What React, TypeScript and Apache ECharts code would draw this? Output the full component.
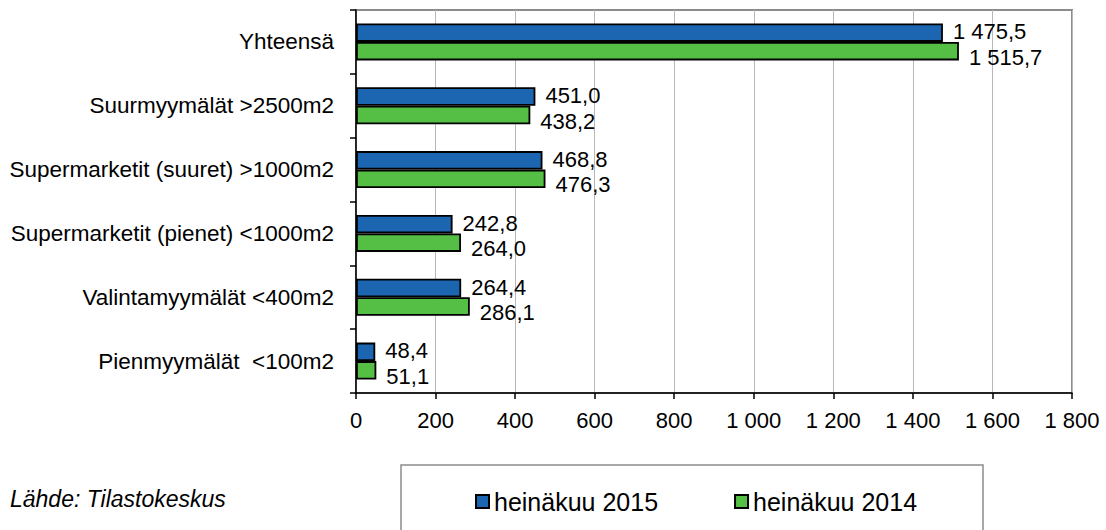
import React, { useEffect, useRef } from "react";
import * as echarts from "echarts";

const categories = [
  "Pienmyymälät  <100m2",
  "Valintamyymälät <400m2",
  "Supermarketit (pienet) <1000m2",
  "Supermarketit (suuret) >1000m2",
  "Suurmyymälät >2500m2",
  "Yhteensä",
];
const seriesNames = ["heinäkuu 2015", "heinäkuu 2014"];
const values2015 = [48.4, 264.4, 242.8, 468.8, 451.0, 1475.5];
const values2014 = [51.1, 286.1, 264.0, 476.3, 438.2, 1515.7];
const xTicks = { min: 0, max: 1800, interval: 200 };
const sourceText = "Lähde: Tilastokeskus";

const FONT = "'Liberation Sans', Arial, sans-serif";

function fmtThousands(n: number): string {
  const s = String(Math.round(n));
  return s.replace(/\B(?=(\d{3})+(?!\d))/g, " ");
}
function fmtValue(v: number): string {
  const fixed = v.toFixed(1);
  const [intPart, dec] = fixed.split(".");
  return fmtThousands(Number(intPart)) + "," + dec;
}

export default function App() {
  const ref = useRef<HTMLDivElement>(null);
  useEffect(() => {
    document.body.style.margin = "0";
    if (!ref.current) return;
    const chart = echarts.init(ref.current, undefined, { renderer: "svg" });
    chart.setOption({
      animation: false,
      backgroundColor: "#ffffff",
      textStyle: { fontFamily: FONT },
      grid: {
        left: 356,
        right: 34,
        top: 10,
        bottom: 137,
        show: true,
        borderColor: "#8c8c8c",
        borderWidth: 2,
        backgroundColor: "transparent",
      },
      legend: {
        data: seriesNames,
        left: 475,
        top: 489,
        padding: 0,
        itemGap: 76,
        itemWidth: 13,
        itemHeight: 13,
        icon: "rect",
        itemStyle: { borderColor: "#000", borderWidth: 2 },
        textStyle: { fontSize: 25, color: "#000", fontFamily: FONT },
      },
      xAxis: {
        type: "value",
        min: xTicks.min,
        max: xTicks.max,
        interval: xTicks.interval,
        axisLine: { show: true, lineStyle: { color: "#000", width: 1.5 } },
        axisTick: { show: true, length: 6, lineStyle: { color: "#000", width: 1.5 } },
        axisLabel: {
          fontSize: 22,
          color: "#000",
          margin: 16,
          fontFamily: FONT,
          formatter: (v: number) => fmtThousands(v),
        },
        splitLine: { show: true, lineStyle: { color: "#b8b8b8", width: 1 } },
      },
      yAxis: {
        type: "category",
        data: categories,
        axisLine: { show: true, lineStyle: { color: "#000", width: 1.5 } },
        axisTick: { show: true, length: 6, lineStyle: { color: "#000", width: 1.5 } },
        axisLabel: { fontSize: 22.5, color: "#000", margin: 22, fontFamily: FONT },
      },
      series: [
        {
          name: seriesNames[0],
          type: "bar",
          data: values2015,
          barWidth: 18.5,
          barGap: "0%",
          itemStyle: { color: "#1c66b1", borderColor: "#000", borderWidth: 1.8 },
          label: {
            show: true,
            position: "right",
            distance: 10,
            offset: [0, -1],
            fontSize: 22,
            color: "#000",
            fontFamily: FONT,
            formatter: (p: any) => fmtValue(p.value),
          },
        },
        {
          name: seriesNames[1],
          type: "bar",
          data: values2014,
          barWidth: 18.5,
          barGap: "0%",
          itemStyle: { color: "#55be44", borderColor: "#000", borderWidth: 1.8 },
          label: {
            show: true,
            position: "right",
            distance: 10,
            offset: [0, 6],
            fontSize: 22,
            color: "#000",
            fontFamily: FONT,
            formatter: (p: any) => fmtValue(p.value),
          },
        },
      ],
      graphic: [
        {
          type: "rect",
          shape: { x: 401, y: 465, width: 582, height: 100 },
          style: { fill: "none", stroke: "#8c8c8c", lineWidth: 1.5 },
          silent: true,
        },
        {
          type: "text",
          x: 10,
          y: 499,
          style: {
            text: sourceText,
            fill: "#000",
            font: `italic 23px ${FONT}`,
            textVerticalAlign: "middle",
          },
          silent: true,
        },
      ],
    });
    return () => chart.dispose();
  }, []);
  return <div ref={ref} style={{ width: 1106, height: 530 }} />;
}
